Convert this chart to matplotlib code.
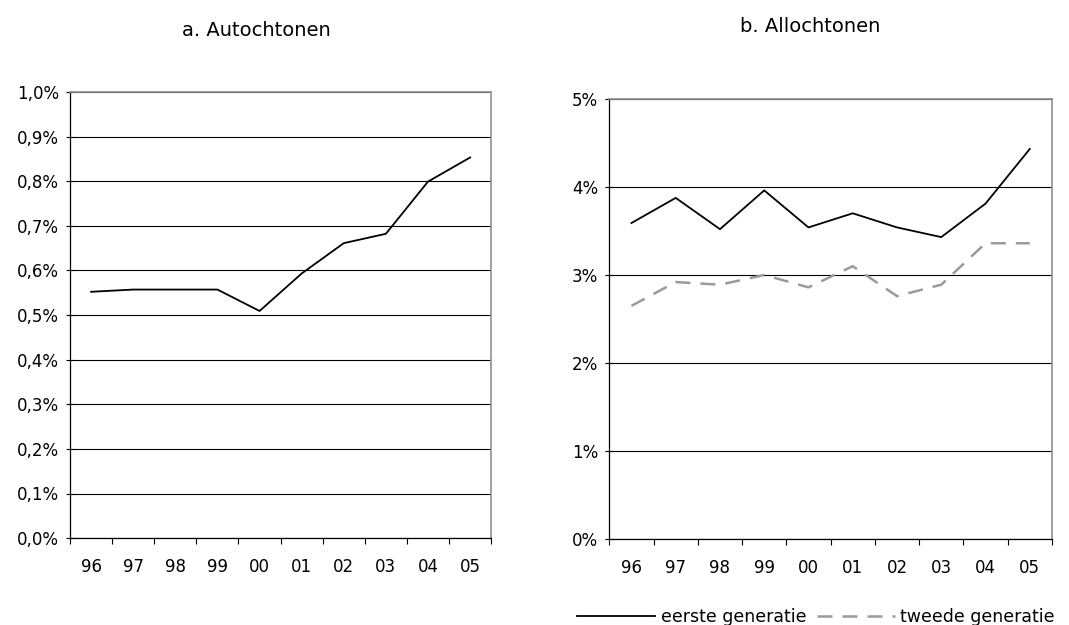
import numpy as np
import matplotlib.pyplot as plt

# data
jaren = ["96", "97", "98", "99", "00", "01", "02", "03", "04", "05"]
autochtonen = [0.552, 0.557, 0.557, 0.557, 0.509, 0.593, 0.661, 0.682, 0.799, 0.853]
eerste_gen = [3.59, 3.875, 3.52, 3.96, 3.54, 3.70, 3.54, 3.43, 3.81, 4.43]
tweede_gen = [2.65, 2.92, 2.89, 3.00, 2.86, 3.10, 2.76, 2.89, 3.36, 3.36]

ticks_a = [0.0, 0.1, 0.2, 0.3, 0.4, 0.5, 0.6, 0.7, 0.8, 0.9, 1.0]
ticks_b = [0, 1, 2, 3, 4, 5]

plt.rcParams['font.family'] = ['DejaVu Sans']
plt.rcParams['font.size'] = 12

fig = plt.figure(figsize=(10.69, 6.25), dpi=100)
ax1 = fig.add_axes([0.0655, 0.139, 0.394, 0.714])
ax2 = fig.add_axes([0.570, 0.137, 0.414, 0.705])

x = np.arange(len(jaren)) + 0.5


def style(ax, ticks, labels):
    ax.set_xlim(0, len(jaren))
    ax.set_ylim(ticks[0], ticks[-1])
    ax.set_yticks(ticks)
    ax.set_yticklabels(labels)
    ax.set_xticks(np.arange(len(jaren) + 1))
    ax.set_xticklabels([])
    ax.set_xticks(x, minor=True)
    ax.set_xticklabels(jaren, minor=True)
    ax.tick_params(axis='x', which='major', length=4, direction='out', width=0.8)
    ax.tick_params(axis='x', which='minor', length=0, pad=14)
    ax.tick_params(axis='y', length=6, direction='inout', width=0.8, pad=5)
    ax.grid(axis='y', color='black', linewidth=0.8)
    ax.set_axisbelow(True)
    for s in ['top', 'right']:
        ax.spines[s].set_color('#909090')
        ax.spines[s].set_linewidth(1.2)
    for s in ['left', 'bottom']:
        ax.spines[s].set_color('black')
        ax.spines[s].set_linewidth(0.9)


style(ax1, ticks_a, [f"{t:.1f}%".replace('.', ',') for t in ticks_a])
ax1.plot(x, autochtonen, color='black', linewidth=1.3)

style(ax2, ticks_b, [f"{t}%" for t in ticks_b])
l1, = ax2.plot(x, eerste_gen, color='black', linewidth=1.3, label='eerste generatie')
l2, = ax2.plot(x, tweede_gen, color='#9a9a9a', linewidth=1.8, dashes=(6, 4),
               label='tweede generatie')

fig.text(0.240, 0.952, "a. Autochtonen", ha='center', va='center', fontsize=14)
fig.text(0.758, 0.957, "b. Allochtonen", ha='center', va='center', fontsize=14)

fig.legend(handles=[l1, l2], loc='center left', bbox_to_anchor=(0.54, 0.0128),
           ncol=2, frameon=False, handlelength=4.5, handletextpad=0.3,
           columnspacing=0.6, fontsize=12.5, borderpad=0, borderaxespad=0)

fig.savefig("out.png", dpi=100)
